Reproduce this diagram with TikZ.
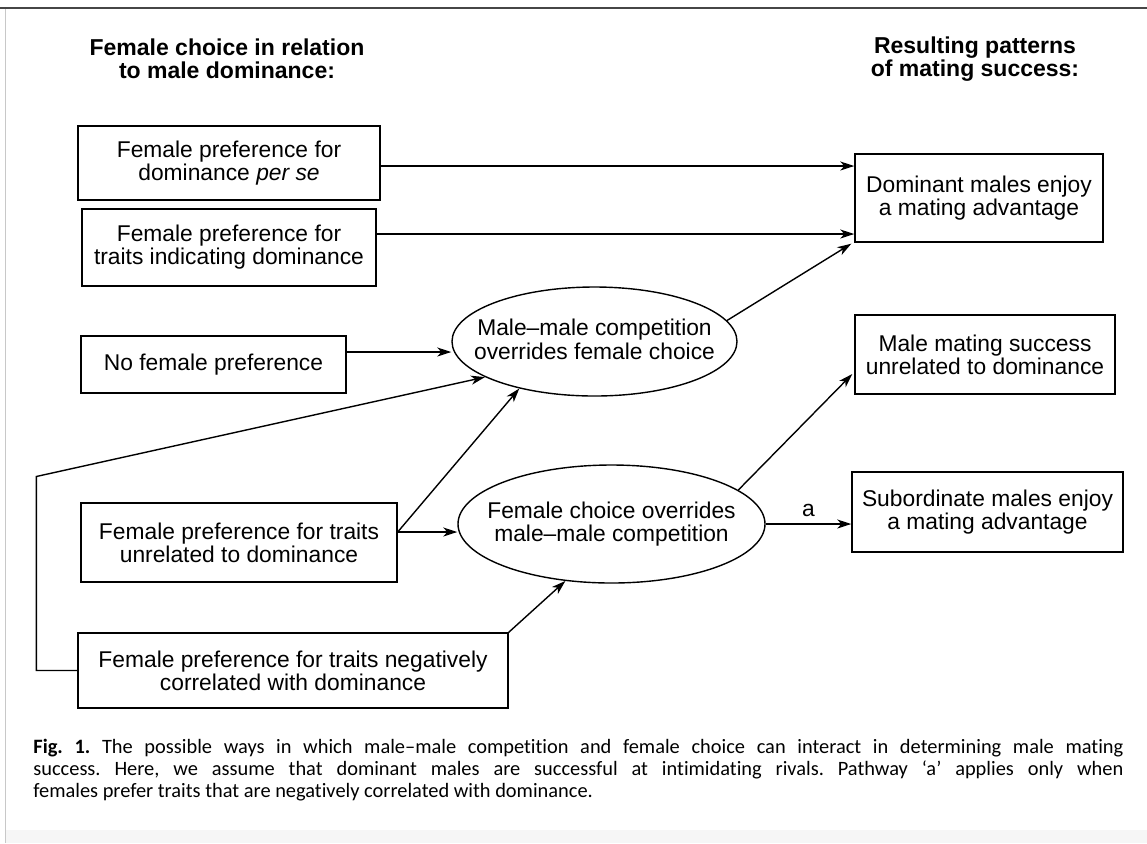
\documentclass[tikz,border=0pt]{standalone}
\usepackage{fontspec}
\setmainfont{Liberation Sans}
\newfontfamily\capfont[Ligatures=NoCommon]{Carlito}
\usetikzlibrary{shapes.geometric, arrows.meta, calc}
\definecolor{rulegray}{RGB}{70,70,70}
\definecolor{edgegray}{RGB}{200,200,200}
\definecolor{shadegray}{RGB}{246,246,246}
% oval text that does not widen the ellipse
\newcommand{\ovaltext}[1]{\smash{\makebox[0pt]{\raisebox{-0.3em}{\begin{tabular}{@{}c@{}}#1\end{tabular}}}}}

\begin{document}
\begin{tikzpicture}[x=0.5pt, y=-0.5pt,
    box/.style={draw, line width=0.7pt, inner sep=0pt, align=center, font=\fontsize{11.4}{11.5}\selectfont},
    oval/.style={ellipse, draw, line width=0.7pt, inner sep=0pt, font=\fontsize{11.4}{11.5}\selectfont},
    arr/.style={-{Stealth[length=7pt, width=4.5pt, inset=2pt]}, line width=0.7pt},
    head/.style={align=center, font=\bfseries\fontsize{11.5}{11.5}\selectfont}]
        \useasboundingbox (0,0) rectangle (1147,843);
        % Page frame
        \fill[shadegray] (5,830) rectangle (1147,843);
        \draw[edgegray, line width=0.5pt] (5,8) -- (5,843);
        \draw[rulegray, line width=1.2pt] (0,8) -- (1147,8);

        % Column headings
        \node[head] (lefthead) at (227,59) {Female choice in relation\\to male dominance:};
        \node[head] (righthead) at (975,59) {Resulting patterns\\of mating success:};

        % Female choice boxes
        \node[box, minimum width=151pt, minimum height=37pt] (perse) at (229,163) {Female preference for\\dominance \textit{per se}};
        \node[box, minimum width=147pt, minimum height=38.5pt] (indic) at (229,247.5) {Female preference for\\traits indicating dominance};
        \node[box, minimum width=132.5pt, minimum height=28.5pt] (nopref) at (213.5,364.5) {No female preference};
        \node[box, minimum width=158pt, minimum height=39.5pt] (unrel) at (239,542.5) {Female preference for traits\\unrelated to dominance};
        \node[box, minimum width=215pt, minimum height=37.5pt] (negcor) at (293,670.5) {Female preference for traits negatively\\correlated with dominance};

        % Interaction ovals
        \node[oval, minimum width=142.5pt, minimum height=54.5pt] (mmwins) at (594.5,341.5) {\ovaltext{Male--male competition\\overrides female choice}};
        \node[oval, minimum width=153.5pt, minimum height=59pt] (fcwins) at (611.5,524) {\ovaltext{Female choice overrides\\male--male competition}};

        % Outcome boxes
        \node[box, minimum width=124pt, minimum height=44pt] (domadv) at (979,198) {Dominant males enjoy\\a mating advantage};
        \node[box, minimum width=130pt, minimum height=39.5pt] (nodom) at (985,354.5) {Male mating success\\unrelated to dominance};
        \node[box, minimum width=135.5pt, minimum height=40pt] (subadv) at (987.5,512) {Subordinate males enjoy\\a mating advantage};

        % Connecting arrows
        \draw[arr] ($(perse.east)+(0,3)$) -- ($(perse.east -| domadv.west)+(0,3)$);
        \draw[arr] ($(indic.east)+(0,-13.5)$) -- ($(indic.east -| domadv.west)+(0,-13.5)$);
        \draw[arr] (mmwins.9) -- ($(domadv.south west)+(-3,1)$);
        \draw[arr] ($(nopref.east)+(0,-12.5)$) -- ($(nopref.east -| mmwins.west)+(0,-12.5)$);
        \draw[arr] (negcor.west) -- ++(-41,0) -- ++(0,-194) -- (mmwins.198);
        \draw[arr] ($(unrel.east)+(0,-10.5)$) -- (mmwins.212);
        \draw[arr] ($(unrel.east)+(0,-10.5)$) -- ($(unrel.east -| fcwins.west)+(0,-10.5)$);
        \draw[arr] (negcor.north east) -- (fcwins.231);
        \draw[arr] (fcwins.15) -- ($(nodom.west)+(-2,19.5)$);
        \draw[arr] (fcwins.east) -- node[above, font=\fontsize{11.4}{11.5}\selectfont] {a} (fcwins.east -| subadv.west);

        % Caption
        \node[anchor=north west, inner sep=0pt, text width=545pt, align=justify, font=\capfont\fontsize{10.2}{11}\selectfont\frenchspacing] (caption) at (33,739)
            {\textbf{Fig. 1.} The possible ways in which male–male competition and female choice can interact in determining male mating\linebreak
             success. Here, we assume that dominant males are successful at intimidating rivals. Pathway ‘a’ applies only when\linebreak
             females prefer traits that are negatively correlated with dominance.};
    \end{tikzpicture}
\end{document}
